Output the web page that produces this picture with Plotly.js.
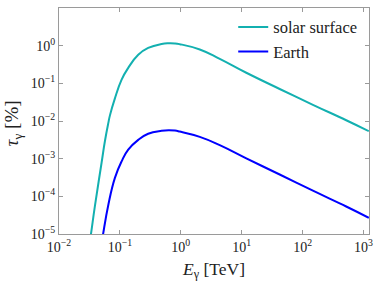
<!DOCTYPE html>
<html>
<head>
<meta charset="utf-8">
<script src="https://cdn.plot.ly/plotly-3.0.1.min.js"></script>
<style>html,body{margin:0;padding:0;background:#fff;}#chart{width:374px;height:285px;}</style>
</head>
<body>
<div id="chart"></div>
<script>
// Photon energy E_gamma [TeV] and optical depth tau_gamma [%]
const energySolar = [0.0302, 0.0335, 0.0389, 0.0501, 0.0568, 0.0646, 0.0686, 0.0828, 0.1067, 0.137, 0.2, 0.291, 0.483, 0.631, 0.80, 0.96, 2.05, 4.36, 11.9, 42.0, 147.6, 520, 1222];
const tauSolar   = [3.2e-6, 1.0e-5, 5.6e-5, 7.9e-4, 2.95e-3, 8.9e-3, 1.41e-2, 3.98e-2, 0.126, 0.257, 0.575, 0.871, 1.11, 1.16, 1.148, 1.096, 0.794, 0.447, 0.191, 0.0708, 0.0269, 0.01047, 0.00537];

const energyEarth = [0.049, 0.053, 0.0646, 0.0828, 0.1067, 0.137, 0.2, 0.291, 0.483, 0.631, 0.80, 0.96, 2.05, 4.36, 11.9, 42.0, 147.6, 520, 1222];
const tauEarth    = [4.5e-6, 1.0e-5, 6.0e-5, 3.1e-4, 8.5e-4, 1.74e-3, 3.16e-3, 4.6e-3, 5.5e-3, 5.69e-3, 5.56e-3, 5.25e-3, 3.8e-3, 2.29e-3, 1.02e-3, 3.8e-4, 1.41e-4, 5.37e-5, 2.69e-5];

const seriesNames = ["solar surface", "Earth"];
const xTickVals = [0.01, 0.1, 1, 10, 100, 1000];
const xTickText = ["10<sup>−2</sup>", "10<sup>−1</sup>", "10<sup>0</sup>", "10<sup>1</sup>", "10<sup>2</sup>", "10<sup>3</sup>"];
const yTickVals = [1e-5, 1e-4, 1e-3, 1e-2, 1e-1, 1, 10];
const yTickText = ["10<sup>−5</sup>", "10<sup>−4</sup>", "10<sup>−3</sup>", "10<sup>−2</sup>", "10<sup>−1</sup>", "10<sup>0</sup>", "10<sup>1</sup>"];
const xTitle = "<i>E</i><sub>γ</sub> [TeV]";
const yTitle = "<i>τ</i><sub>γ</sub> [%]";

const FONT = "Liberation Serif, Times New Roman, serif";

const traces = [
  {x: energySolar, y: tauSolar, name: seriesNames[0], mode: "lines",
   line: {color: "#13b0b0", width: 2, shape: "spline", smoothing: 1.3}},
  {x: energyEarth, y: tauEarth, name: seriesNames[1], mode: "lines",
   line: {color: "#0000ff", width: 2, shape: "spline", smoothing: 1.3}}
];

const axisCommon = {
  type: "log", showgrid: false, zeroline: false,
  showline: true, linecolor: "#9a9a9a", linewidth: 1, mirror: "ticks",
  ticks: "inside", ticklen: 4, tickwidth: 1, tickcolor: "#9a9a9a",
  tickfont: {family: FONT, size: 14, color: "#222"}
};

const layout = {
  width: 374, height: 285,
  margin: {l: 59, r: 5, t: 8, b: 51},
  paper_bgcolor: "#fff", plot_bgcolor: "#fff",
  showlegend: true,
  legend: {x: 0.562, y: 0.992, xanchor: "left", yanchor: "top",
           bgcolor: "rgba(0,0,0,0)", font: {family: FONT, size: 16.5, color: "#222"},
           tracegroupgap: 0},
  xaxis: Object.assign({}, axisCommon, {
    range: [-2, 3.09], tickvals: xTickVals, ticktext: xTickText,
    title: {text: xTitle, font: {family: FONT, size: 17.5, color: "#222"}, standoff: 8}
  }),
  yaxis: Object.assign({}, axisCommon, {
    range: [-5, 1], tickvals: yTickVals, ticktext: yTickText
  }),
  annotations: [{
    text: yTitle, xref: "paper", yref: "paper", x: -0.148, y: 0.49,
    xanchor: "center", yanchor: "middle", textangle: -90, showarrow: false,
    font: {family: FONT, size: 19, color: "#222"}
  }]
};

Plotly.newPlot("chart", traces, layout, {staticPlot: true, displayModeBar: false});
</script>
</body>
</html>
